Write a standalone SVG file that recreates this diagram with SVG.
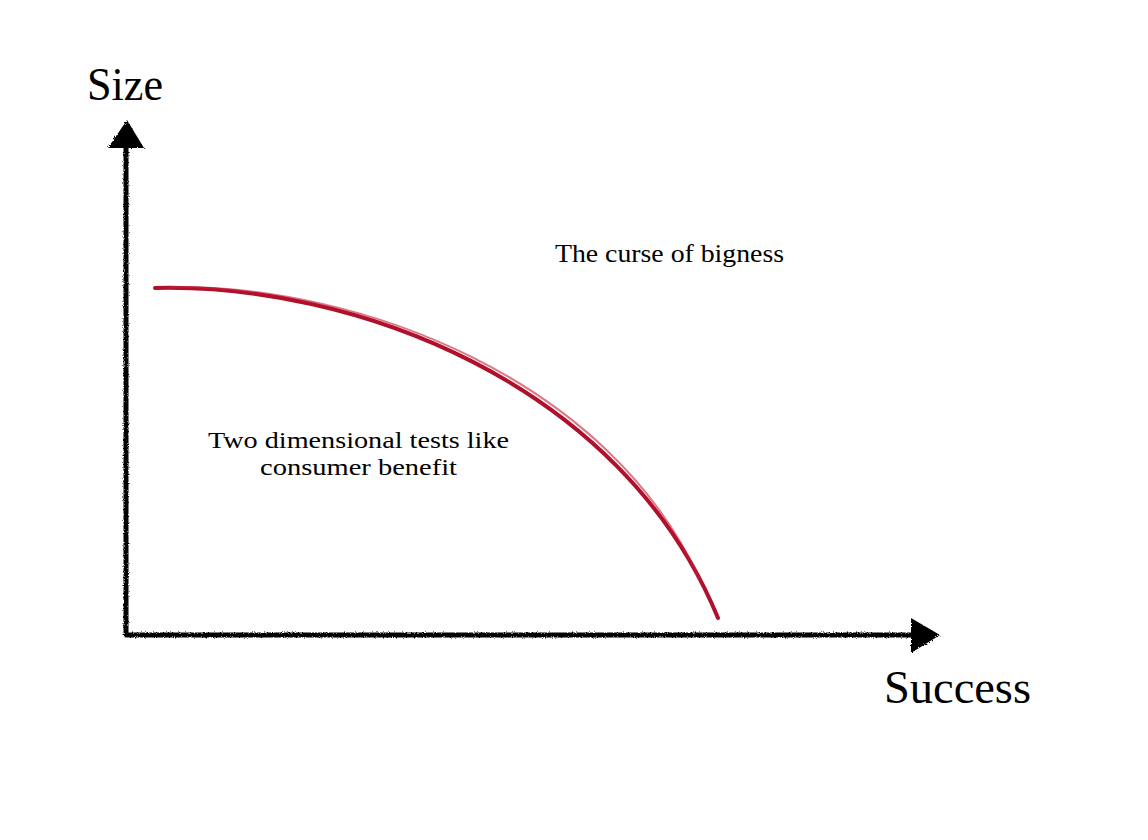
<svg xmlns="http://www.w3.org/2000/svg" width="1148" height="840" viewBox="0 0 1148 840">
<style>
.lbl{font-family:"Liberation Serif","Times New Roman",serif;fill:#000}
.axis{stroke:#000;stroke-width:5;fill:none;stroke-linecap:round}
.head{fill:#000}
</style>
<defs>
<filter id="rough" x="-5%" y="-5%" width="110%" height="110%">
<feTurbulence type="fractalNoise" baseFrequency="0.9" numOctaves="2" seed="3" result="n"/>
<feDisplacementMap in="SourceGraphic" in2="n" scale="3"/>
</filter>
</defs>
<rect width="1148" height="840" fill="#fff"/>
<g id="connectors">
<g id="y-axis" filter="url(#rough)">
<line class="axis" x1="126" y1="632" x2="126" y2="140"/>
<polygon class="head" points="127,120 108,148 144,148"/>
</g>
<g id="x-axis" filter="url(#rough)">
<line class="axis" x1="126" y1="635" x2="915" y2="635"/>
<polygon class="head" points="940,635 911,618 911,653"/>
</g>
<g id="curve">
<path d="M155,288 C 350,283 620,380 718,618" fill="none" stroke="#b0102a" stroke-width="4" stroke-linecap="round"/>
<path d="M170,287 C 360,284 610,380 700,580" fill="none" stroke="#c41e3a" stroke-width="2" opacity="0.6"/>
</g>
</g>
<g id="label-size"><text class="lbl" x="87" y="100" font-size="46" textLength="76" lengthAdjust="spacingAndGlyphs">Size</text></g>
<g id="label-success"><text class="lbl" x="884" y="703" font-size="46" textLength="147" lengthAdjust="spacingAndGlyphs">Success</text></g>
<g id="label-curse"><text class="lbl" x="555" y="262" font-size="26" textLength="229" lengthAdjust="spacingAndGlyphs">The curse of bigness</text></g>
<g id="label-tests">
<text class="lbl" x="208" y="448" font-size="24" textLength="301" lengthAdjust="spacingAndGlyphs">Two dimensional tests like</text>
<text class="lbl" x="260" y="475" font-size="24" textLength="197" lengthAdjust="spacingAndGlyphs">consumer benefit</text>
</g>
</svg>
